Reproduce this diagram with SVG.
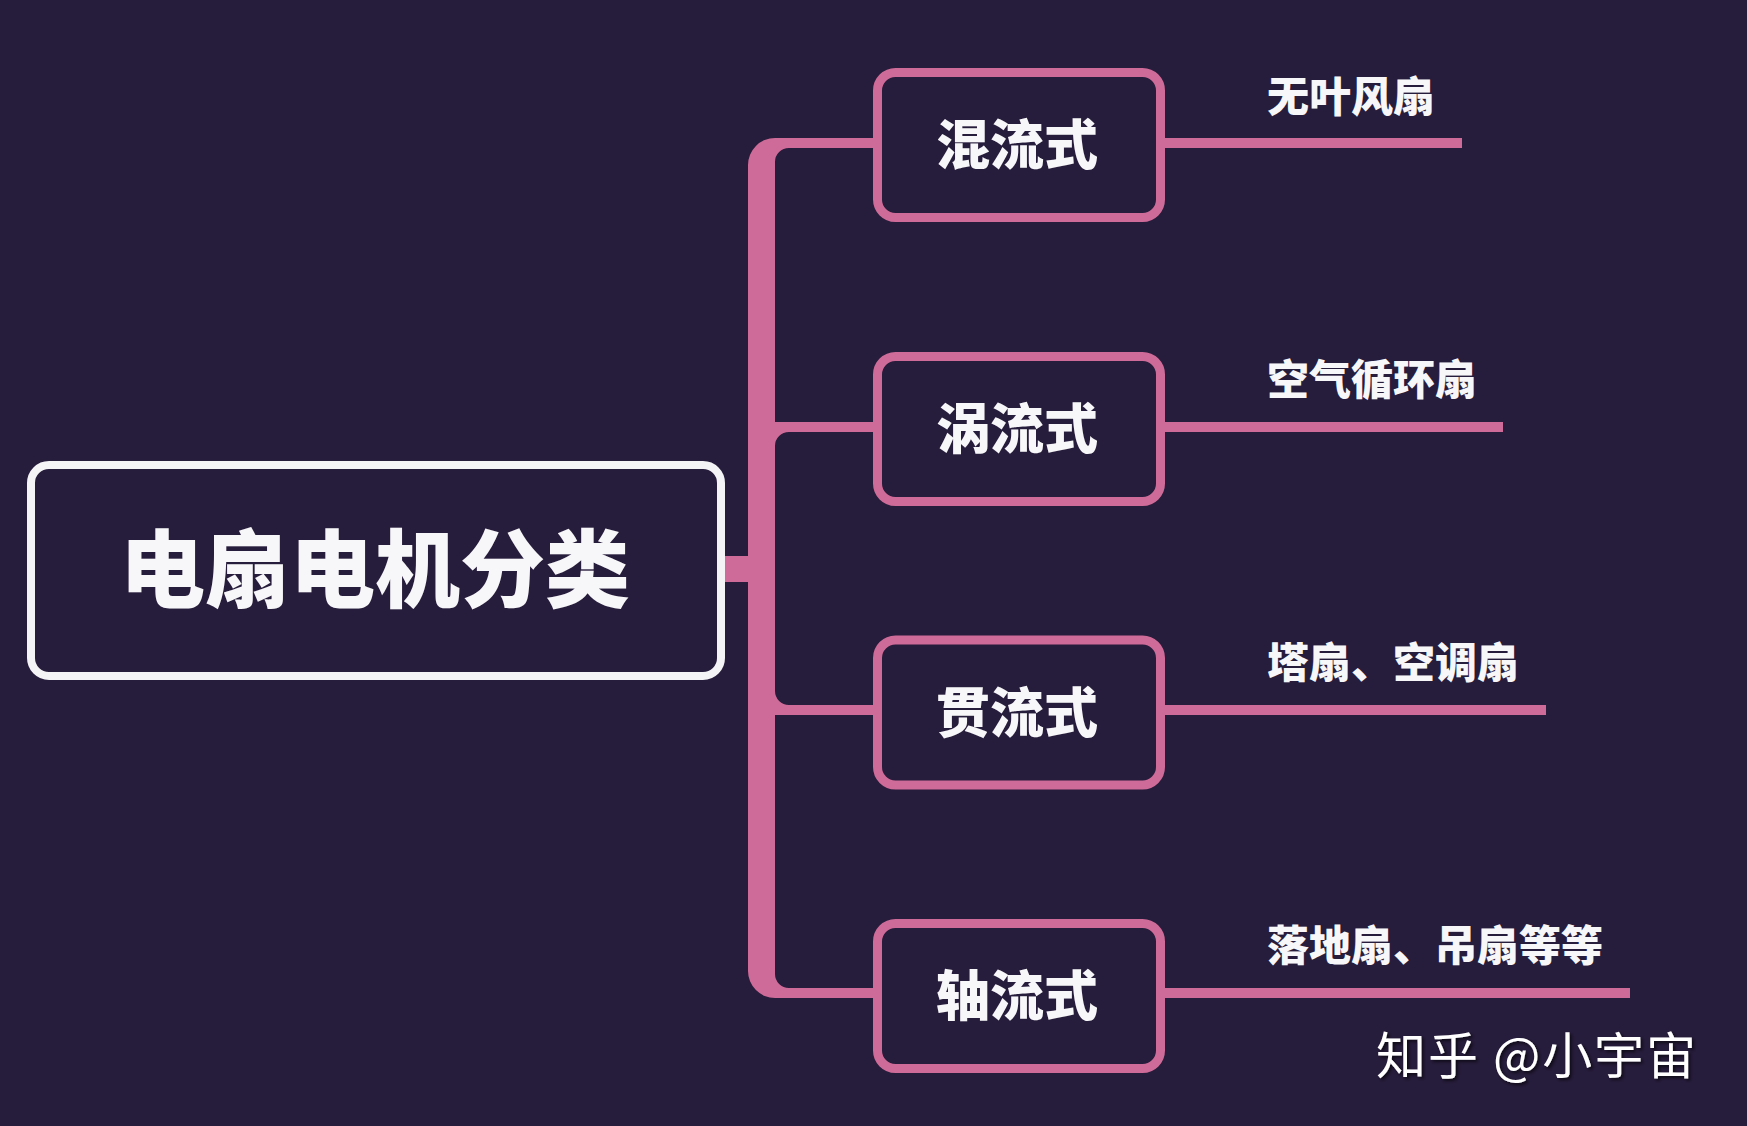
<svg xmlns="http://www.w3.org/2000/svg" width="1747" height="1126" viewBox="0 0 1747 1126">
  <defs>
    <style>
      .bg { fill: #261c3b; }
      .pink { fill: #cf6b98; }
      .child { fill: #261c3b; stroke: #cf6b98; stroke-width: 9; }
      .main { fill: #261c3b; stroke: #f4f3f6; stroke-width: 8; }
      .leafline { stroke: #cf6b98; stroke-width: 10; fill: none; }
      .title { font-family: "Noto Sans CJK SC", "Noto Sans", sans-serif; font-weight: 900; font-size: 85px; fill: #f7f6f8; text-anchor: middle; }
      .ctext { font-family: "Noto Sans CJK SC", "Noto Sans", sans-serif; font-weight: 900; font-size: 54px; fill: #f7f6f8; text-anchor: middle; }
      .leaf { font-family: "Noto Sans CJK SC", "Noto Sans", sans-serif; font-weight: 900; font-size: 42px; fill: #f7f6f8; }
      .wm { font-family: "Noto Sans CJK SC", "Noto Sans", sans-serif; font-weight: 400; font-size: 50px; fill: #ffffff; }
    </style>
    <filter id="shadow" x="-10%" y="-20%" width="120%" height="150%">
      <feDropShadow dx="2" dy="2" stdDeviation="1.5" flood-color="#000000" flood-opacity="0.6"/>
    </filter>
  </defs>
  <rect class="bg" x="0" y="0" width="1747" height="1126"/>

  <g id="connectors">
    <path class="pink" d="M 878 138 H 775 A 27 27 0 0 0 748 165 V 556 H 720 V 582 H 748 V 971 A 27 27 0 0 0 775 998 H 878 V 988 H 789 A 14 14 0 0 1 775 974 V 715 H 878 V 705 H 789 A 14 14 0 0 1 775 691 V 446 A 14 14 0 0 1 789 432 H 878 V 422 H 775 V 162 A 14 14 0 0 1 789 148 H 878 Z"/>
    <line class="leafline" x1="1160" y1="143" x2="1462" y2="143"/>
    <line class="leafline" x1="1160" y1="427" x2="1503" y2="427"/>
    <line class="leafline" x1="1160" y1="710" x2="1546" y2="710"/>
    <line class="leafline" x1="1160" y1="993" x2="1630" y2="993"/>
  </g>

  <g id="node-main">
    <rect class="main" x="31" y="465" width="690" height="211" rx="18"/>
    <text class="title" x="375" y="601">电扇电机分类</text>
  </g>

  <g id="node-hunliu">
    <rect class="child" x="877.5" y="72.5" width="283" height="145" rx="18"/>
    <text class="ctext" x="1017" y="165">混流式</text>
  </g>
  <g id="node-woliu">
    <rect class="child" x="877.5" y="356.5" width="283" height="145" rx="18"/>
    <text class="ctext" x="1017" y="449">涡流式</text>
  </g>
  <g id="node-guanliu">
    <rect class="child" x="877.5" y="640" width="283" height="145" rx="18"/>
    <text class="ctext" x="1017" y="733">贯流式</text>
  </g>
  <g id="node-zhouliu">
    <rect class="child" x="877.5" y="923.5" width="283" height="145" rx="18"/>
    <text class="ctext" x="1017" y="1016">轴流式</text>
  </g>

  <g id="leaf-1"><text class="leaf" x="1267" y="112">无叶风扇</text></g>
  <g id="leaf-2"><text class="leaf" x="1267" y="395">空气循环扇</text></g>
  <g id="leaf-3"><text class="leaf" x="1267" y="678">塔扇、空调扇</text></g>
  <g id="leaf-4"><text class="leaf" x="1267" y="961">落地扇、吊扇等等</text></g>

  <g id="watermark">
    <text class="wm" x="1376" y="1074" textLength="320" lengthAdjust="spacing" filter="url(#shadow)">知乎 @小宇宙</text>
  </g>
</svg>
